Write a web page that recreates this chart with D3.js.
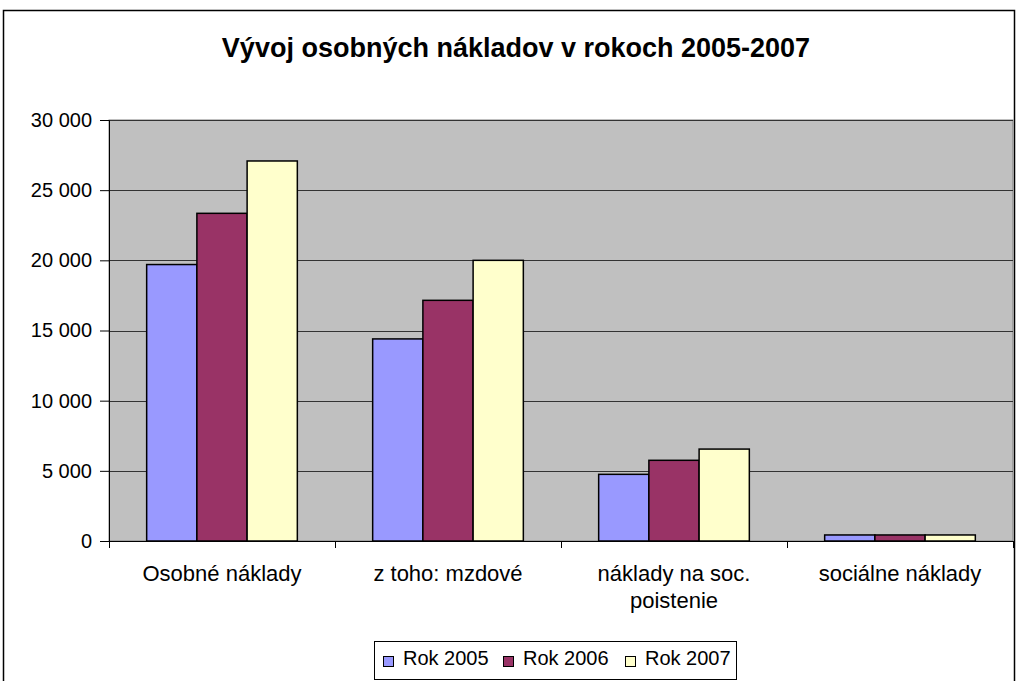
<!DOCTYPE html>
<html>
<head>
<meta charset="utf-8">
<script src="https://cdn.jsdelivr.net/npm/d3@7"></script>
<style>
  body { margin: 0; background: #fff; }
  text { font-family: "Liberation Sans", Arial, sans-serif; fill: #000; }
</style>
</head>
<body>
<div id="chart"></div>
<script>
// data
var categories = ["Osobné náklady", "z toho: mzdové", "náklady na soc. poistenie", "sociálne náklady"];
var years = ["Rok 2005", "Rok 2006", "Rok 2007"];
var rok2005 = [19700, 14400, 4750, 430];
var rok2006 = [23350, 17150, 5750, 430];
var rok2007 = [27080, 20000, 6550, 430];
var yTicks = [0, 5000, 10000, 15000, 20000, 25000, 30000];
var colors = ["#9999FF", "#993366", "#FFFFCC"];

var series = [rok2005, rok2006, rok2007];

var W = 1016, H = 681;
var margin = { top: 120, left: 109 },
  width = 1013 - margin.left,
  height = 541 - margin.top;

var svg = d3.select("#chart")
  .append("svg")
  .attr("width", W)
  .attr("height", H);

// outer frame
svg.append("rect")
  .attr("x", 3.5).attr("y", 10.5)
  .attr("width", 1011).attr("height", 700)
  .attr("fill", "#fff")
  .attr("stroke", "#000")
  .attr("stroke-width", 1.5);

svg.append("text")
  .attr("x", 516).attr("y", 57)
  .attr("text-anchor", "middle")
  .style("font-size", "27px")
  .style("font-weight", "bold")
  .text("Vývoj osobných nákladov v rokoch 2005-2007");

var g = svg.append("g")
  .attr("transform", "translate(" + margin.left + "," + margin.top + ")");

var x = d3.scaleBand()
  .domain(categories)
  .range([0, width]);

// gap width 150% -> 0.75 bar on each side
var x1 = d3.scaleBand()
  .domain(d3.range(3))
  .range([0, x.bandwidth()])
  .paddingOuter(0.75)
  .paddingInner(0);

var y = d3.scaleLinear()
  .domain([0, 30000])
  .range([height, 0]);

// plot area
g.append("rect")
  .attr("width", width).attr("height", height)
  .attr("fill", "#C0C0C0")
  .attr("stroke", "#808080")
  .attr("stroke-width", 1);

// gridlines
g.selectAll(".grid")
  .data(yTicks.slice(1))
  .enter().append("line")
  .attr("x1", 0).attr("x2", width)
  .attr("y1", function (d) { return Math.round(y(d)) + 0.5; })
  .attr("y2", function (d) { return Math.round(y(d)) + 0.5; })
  .attr("stroke", "#333")
  .attr("stroke-width", 1);

// bars
var groups = g.selectAll(".cat")
  .data(categories)
  .enter().append("g")
  .attr("transform", function (d) { return "translate(" + x(d) + ",0)"; });

groups.selectAll("rect")
  .data(function (d, i) { return series.map(function (s, k) { return { k: k, value: s[i] }; }); })
  .enter().append("rect")
  .attr("x", function (d) { return x1(d.k); })
  .attr("y", function (d) { return y(d.value); })
  .attr("width", x1.bandwidth())
  .attr("height", function (d) { return height - y(d.value); })
  .attr("fill", function (d) { return colors[d.k]; })
  .attr("stroke", "#000")
  .attr("stroke-width", 1.5);

// y axis
var yAxis = g.append("g")
  .call(d3.axisLeft(y).tickValues(yTicks).tickSize(9).tickPadding(8)
    .tickFormat(function (d) { return d3.format(",")(d).replace(/,/g, " "); }));
yAxis.select(".domain").attr("stroke", "#000");
yAxis.selectAll("text").style("font-size", "20px");

// x axis with ticks at category boundaries
var xAxisG = g.append("g")
  .attr("transform", "translate(0," + height + ")");
xAxisG.append("line")
  .attr("x1", 0).attr("x2", width)
  .attr("y1", 0.5).attr("y2", 0.5)
  .attr("stroke", "#000");
xAxisG.selectAll(".tick")
  .data(categories.map(function (c) { return x(c); }).concat([width]))
  .enter().append("line")
  .attr("x1", function (d) { return Math.round(d) + 0.5; })
  .attr("x2", function (d) { return Math.round(d) + 0.5; })
  .attr("y1", 0).attr("y2", 7)
  .attr("stroke", "#000");

var labels = [["Osobné náklady"], ["z toho: mzdové"], ["náklady na soc.", "poistenie"], ["sociálne náklady"]];
xAxisG.selectAll(".lab")
  .data(categories)
  .enter().append("text")
  .attr("x", function (d) { return x(d) + x.bandwidth() / 2; })
  .attr("y", 40)
  .attr("text-anchor", "middle")
  .style("font-size", "22px")
  .each(function (d, i) {
    var t = d3.select(this);
    labels[i].forEach(function (line, j) {
      t.append("tspan").attr("x", x(d) + x.bandwidth() / 2).attr("dy", j ? 27 : 0).text(line);
    });
  });

// legend
var legend = svg.append("g").attr("transform", "translate(374,641)");
legend.append("rect")
  .attr("x", 0.5).attr("y", 0.5)
  .attr("width", 362).attr("height", 38)
  .attr("fill", "#fff")
  .attr("stroke", "#000");
var itemX = [9, 129, 251];
years.forEach(function (yr, i) {
  legend.append("rect")
    .attr("x", itemX[i] + 0.5).attr("y", 15.5)
    .attr("width", 10).attr("height", 10)
    .attr("fill", colors[i])
    .attr("stroke", "#000");
  legend.append("text")
    .attr("x", itemX[i] + 20).attr("y", 24)
    .style("font-size", "20px")
    .text(yr);
});
</script>
</body>
</html>
